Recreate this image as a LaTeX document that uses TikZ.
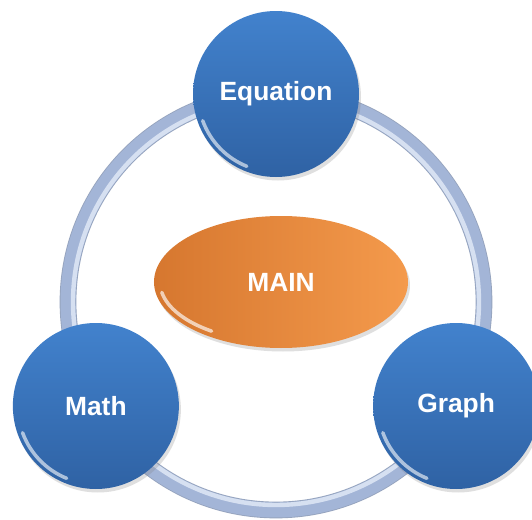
\documentclass[tikz,border=0pt]{standalone}
\usepackage{fontspec}
\setsansfont{Liberation Sans}
\usetikzlibrary{shadows,shapes.geometric}
\definecolor{bubbletop}{HTML}{4282CD}
\definecolor{bubblebot}{HTML}{2F62A4}
\definecolor{ringblue}{HTML}{A3B5D7}
\definecolor{ringlight}{HTML}{D6E0F1}
\definecolor{orglight}{HTML}{F49A4C}
\definecolor{orgdark}{HTML}{D6772F}

\begin{document}
\begin{tikzpicture}[x=1cm,y=1cm,font=\sffamily\bfseries\fontsize{15}{17}\selectfont,
  bubble/.style={circle,minimum size=3.32cm,inner sep=0pt,text=white,
    top color=bubbletop,bottom color=bubblebot,
    drop shadow={opacity=0.25,shadow xshift=0.04,shadow yshift=-0.07},
    path picture={\draw[white,opacity=0.6,line width=2pt,line cap=round]
      ([shift={(200:1.56)}]path picture bounding box.center) arc (200:248:1.56);}},
  hubnode/.style={ellipse,minimum width=5.08cm,minimum height=2.64cm,inner sep=0pt,
    text=white,left color=orgdark,right color=orglight,
    drop shadow={opacity=0.25,shadow xshift=0.04,shadow yshift=-0.07},
    path picture={\draw[white,opacity=0.65,line width=2pt,line cap=round]
      ([shift={(190:2.42cm and 1.2cm)}]path picture bounding box.center) arc (190:235:2.42cm and 1.2cm);}}]
  \useasboundingbox[fill=white] (0,0) rectangle (10.64,10.38);

  % ring behind the three bubbles
  \coordinate (hub) at (5.52,4.34);
  \draw[line width=9.5pt,ringblue!85!black!90] (hub) circle (4.16);
  \draw[line width=8.5pt,ringblue] (hub) circle (4.16);
  \draw[line width=2.5pt,ringlight] (hub) circle (4.06);

  \node[hubnode] (main) at (5.62,4.74) {MAIN};

  \node[bubble] (eq) at ([shift={(90:4.16)}]hub) {Equation};
  \node[bubble] (math) at ([shift={(210:4.16)}]hub) {Math};
  \node[bubble] (graph) at ([shift={(330:4.16)}]hub) {Graph};
\end{tikzpicture}
\end{document}
